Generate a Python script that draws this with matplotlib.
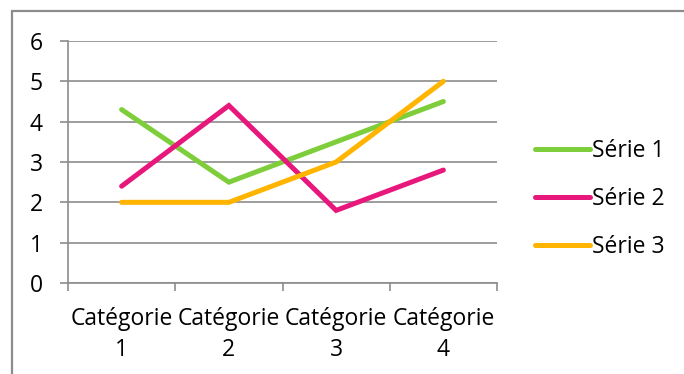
import matplotlib
matplotlib.use("Agg")
import matplotlib.pyplot as plt
from matplotlib.patches import Rectangle

categories = ["Catégorie\n1", "Catégorie\n2", "Catégorie\n3", "Catégorie\n4"]
serie1 = [4.3, 2.5, 3.5, 4.5]
serie2 = [2.4, 4.4, 1.8, 2.8]
serie3 = [2.0, 2.0, 3.0, 5.0]
series_names = ["Série 1", "Série 2", "Série 3"]
colours = ["#7DCE3A", "#E8177B", "#FFB400"]

W, H = 684, 374
plt.rcParams["font.family"] = ["Open Sans", "DejaVu Sans"]
plt.rcParams["font.size"] = 16.5

fig = plt.figure(figsize=(W / 100, H / 100), dpi=100)
ax = fig.add_axes([68 / W, 1 - 283 / H, (497 - 68) / W, (283 - 41) / H])

grey = "#8C8C8C"
xs = range(len(categories))
for vals, name, c in zip([serie1, serie2, serie3], series_names, colours):
    ax.plot(xs, vals, c=c, lw=3.6, label=name, solid_capstyle="round",
            solid_joinstyle="miter")

ax.set_xlim(-0.5, len(categories) - 0.5)
ax.set_ylim(0, 6)
ax.set_yticks(range(7))
ax.grid(axis="y", color=grey, lw=1.2)
ax.set_axisbelow(True)

# category boundaries get the tick marks, labels sit at centres
ax.set_xticks([i - 0.5 for i in range(len(categories) + 1)])
ax.set_xticklabels([])
ax.set_xticks(list(xs), minor=True)
ax.set_xticklabels(categories, minor=True, linespacing=1.4)
ax.tick_params(axis="x", which="minor", length=0, pad=17)
ax.tick_params(axis="x", which="major", length=6, width=1.2, color=grey)
ax.tick_params(axis="y", length=6, width=1.2, color=grey, pad=12)

for s in ["top", "right"]:
    ax.spines[s].set_visible(False)
for s in ["left", "bottom"]:
    ax.spines[s].set_color(grey)
    ax.spines[s].set_linewidth(1.2)

fig.legend(loc="center left", bbox_to_anchor=(535 / W, 1 - 199 / H),
           frameon=False, handlelength=2.4, handletextpad=0.1,
           labelspacing=1.05, borderpad=0, borderaxespad=0)

fig.add_artist(Rectangle((12 / W, -0.1), 1, (H - 11) / H + 0.1, fill=False,
                         ec=grey, lw=1.6, transform=fig.transFigure))

fig.savefig("out.png", dpi=100)
